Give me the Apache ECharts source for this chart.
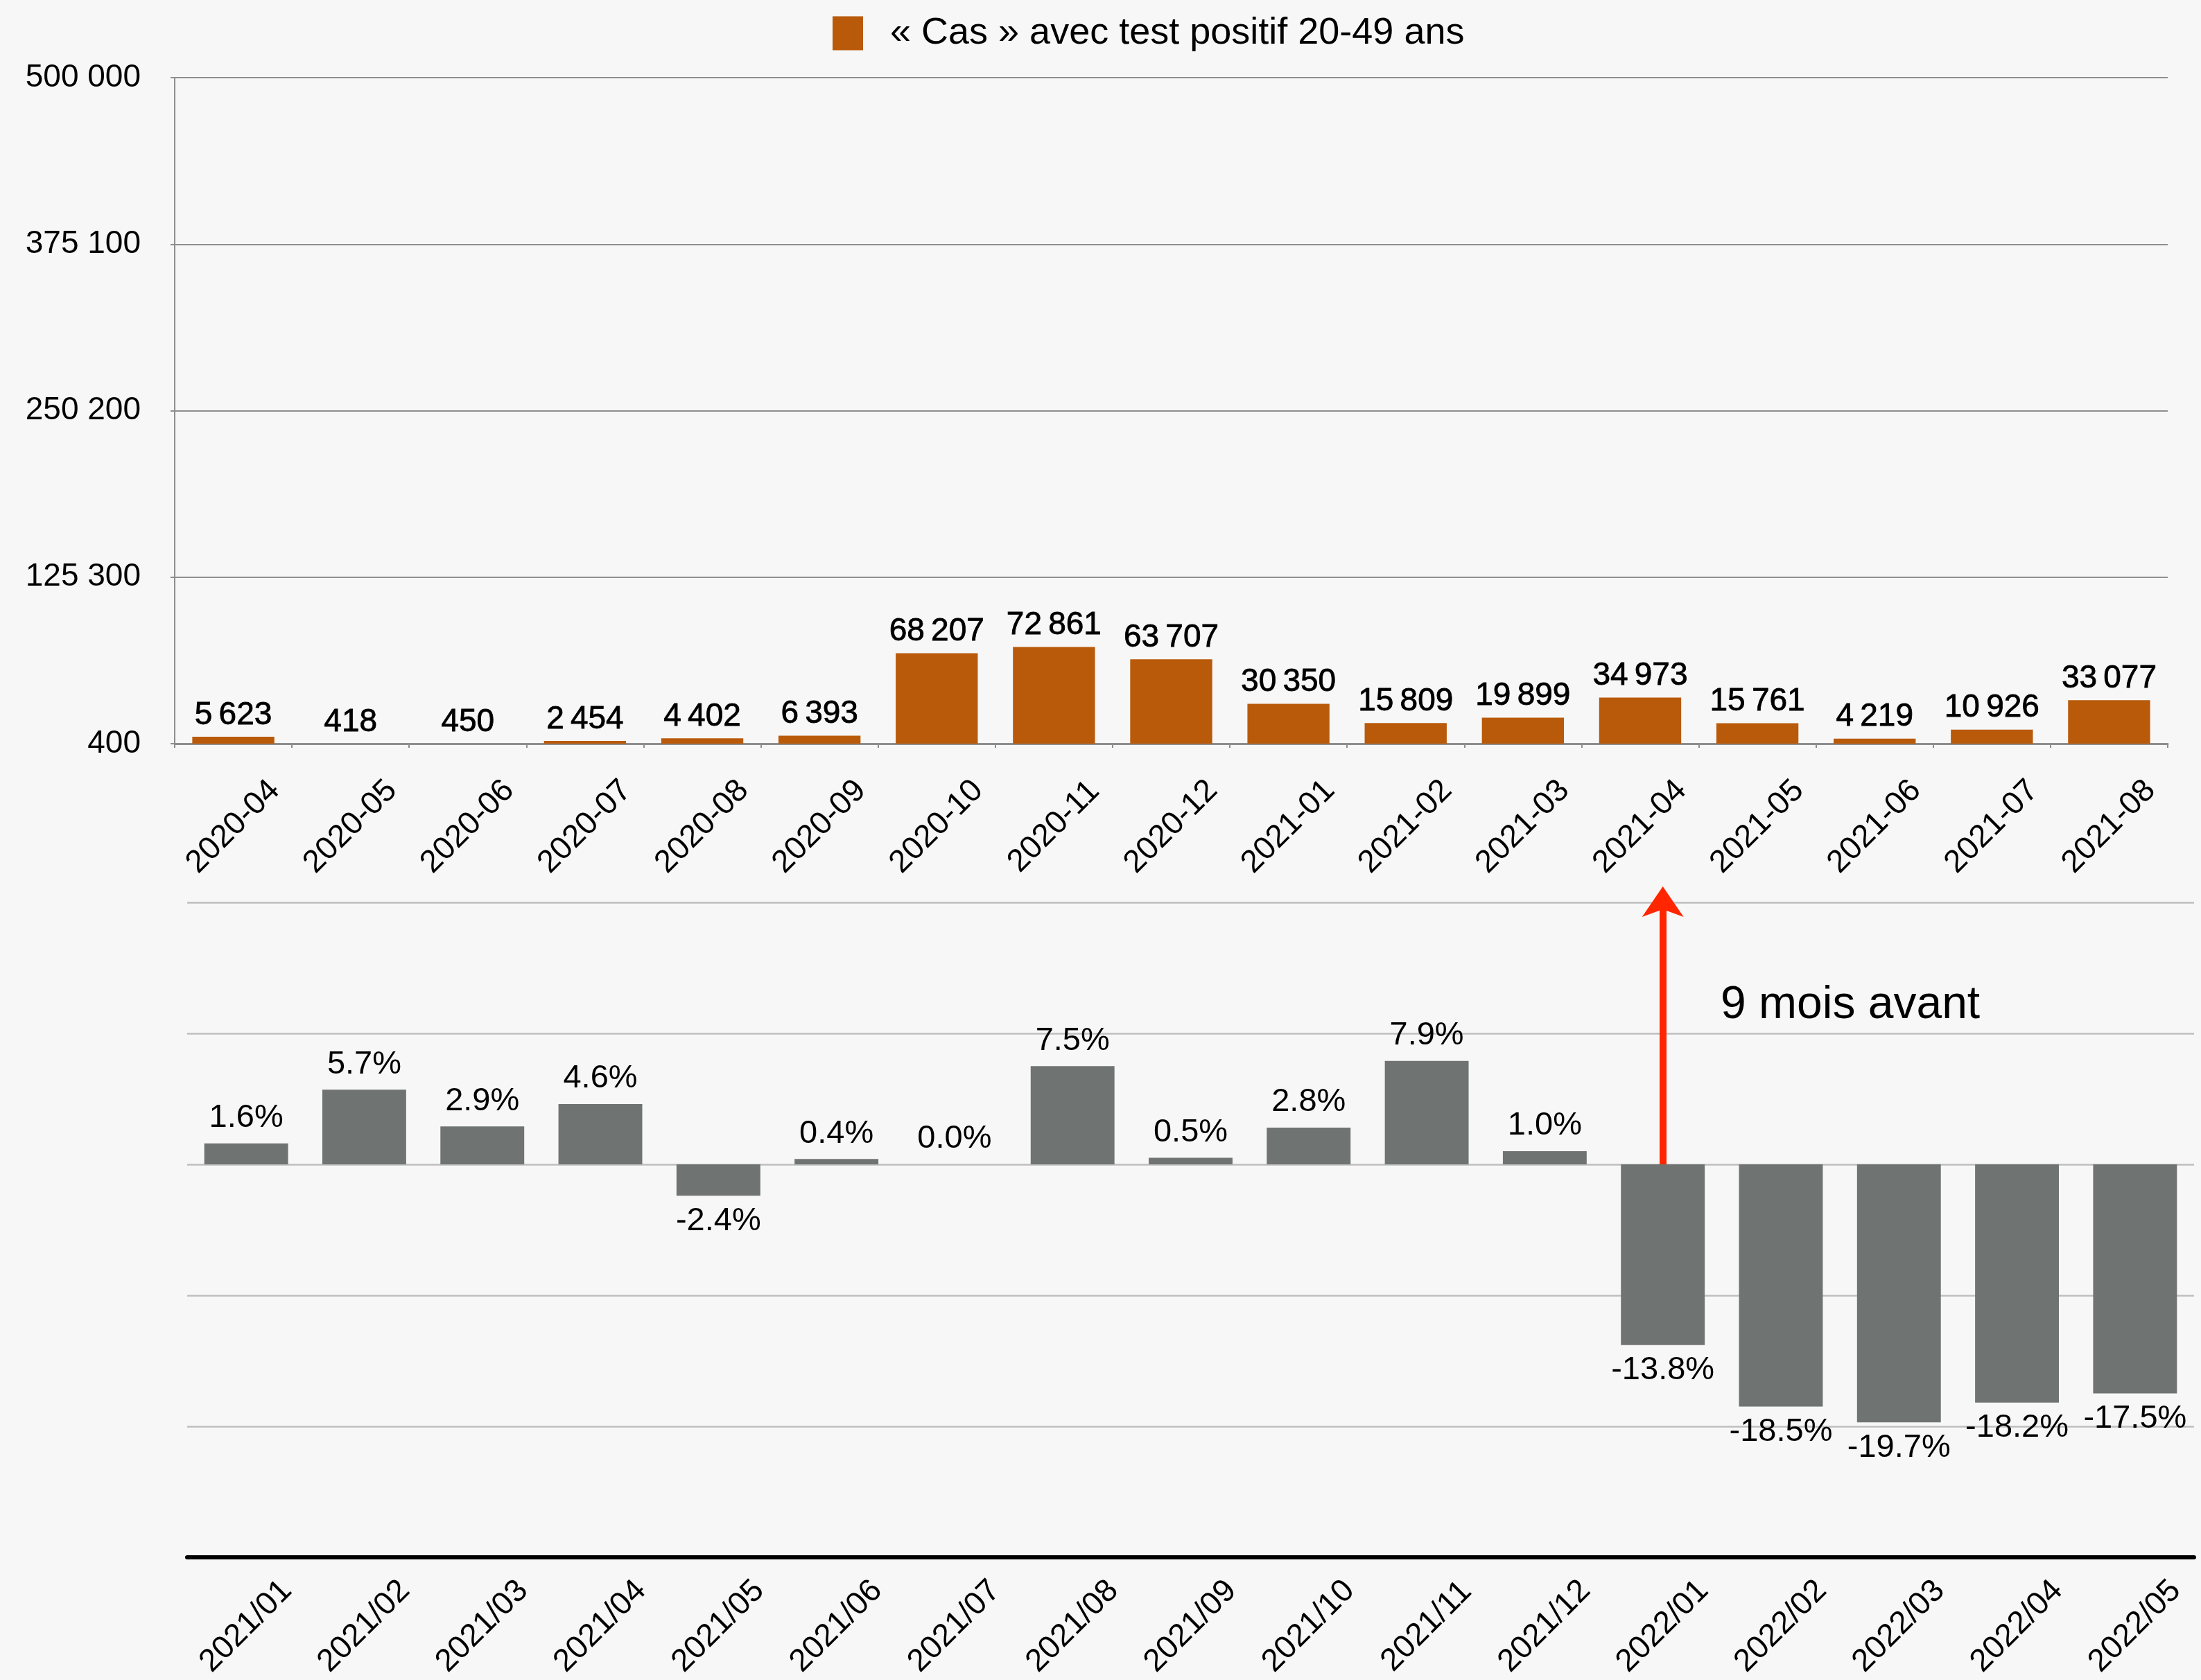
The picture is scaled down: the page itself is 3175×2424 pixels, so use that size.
<!DOCTYPE html>
<html>
<head>
<meta charset="utf-8">
<script src="https://cdn.jsdelivr.net/npm/echarts@6/dist/echarts.min.js"></script>
<style>
  html, body { margin: 0; padding: 0; background: #F7F7F7; }
  #chart { width: 3175px; height: 2424px; }
</style>
</head>
<body>
<div id="chart"></div>
<script>
// Monthly positive-test "cases", 20-49 year olds
const casesName = '« Cas » avec test positif 20-49 ans';
const casesMonths = ['2020-04', '2020-05', '2020-06', '2020-07', '2020-08', '2020-09',
  '2020-10', '2020-11', '2020-12', '2021-01', '2021-02', '2021-03', '2021-04',
  '2021-05', '2021-06', '2021-07', '2021-08'];
const casesValues = [5623, 418, 450, 2454, 4402, 6393, 68207, 72861, 63707,
  30350, 15809, 19899, 34973, 15761, 4219, 10926, 33077];
const casesTicks = [400, 125300, 250200, 375100, 500000];

// Monthly change (%), nine months later
const changeMonths = ['2021/01', '2021/02', '2021/03', '2021/04', '2021/05', '2021/06',
  '2021/07', '2021/08', '2021/09', '2021/10', '2021/11', '2021/12', '2022/01',
  '2022/02', '2022/03', '2022/04', '2022/05'];
const changeValues = [1.6, 5.7, 2.9, 4.6, -2.4, 0.4, 0.0, 7.5, 0.5, 2.8, 7.9, 1.0,
  -13.8, -18.5, -19.7, -18.2, -17.5];
const changeTicks = [-30, -20, -10, 0, 10, 20];

// Annotation: arrow from the zero line of 2022/01 up to the top of the panel
const arrowMonth = '2022/01';
const arrowTop = 20;
const noteText = '9 mois avant';

const FONT = '"Liberation Sans", Arial, Helvetica, sans-serif';

function groupThousands(v, sep) {
  return String(v).replace(/\B(?=(\d{3})+(?!\d))/g, sep);
}

const chart = echarts.init(document.getElementById('chart'));

const changeData = changeValues.map(v => ({
  value: v,
  label: { position: v < 0 ? 'bottom' : 'top' }
}));

chart.setOption({
  backgroundColor: '#F7F7F7',
  textStyle: { fontFamily: FONT, color: '#000' },
  animation: false,
  legend: {
    data: [casesName],
    left: 1196,
    top: 16,
    itemWidth: 44,
    itemHeight: 49,
    icon: 'rect',
    textStyle: { fontSize: 54, color: '#000', fontFamily: FONT, padding: [0, 0, 0, 34] }
  },
  grid: [
    { left: 252, right: 48, top: 112, bottom: 2424 - 1073 },
    { left: 270, right: 10, top: 1302, bottom: 2424 - 2247 }
  ],
  xAxis: [
    {
      type: 'category',
      gridIndex: 0,
      data: casesMonths,
      axisLine: { lineStyle: { color: '#8E8E8E', width: 3 } },
      axisTick: { show: true, length: 6, lineStyle: { color: '#8E8E8E', width: 2 } },
      axisLabel: {
        interval: 0, rotate: 45, align: 'center', verticalAlign: 'middle',
        margin: 120, fontSize: 46, color: '#000', fontFamily: FONT
      }
    },
    {
      type: 'category',
      gridIndex: 1,
      data: changeMonths,
      axisLine: { onZero: false, lineStyle: { color: '#000', width: 6 } },
      axisTick: { show: false },
      axisLabel: {
        interval: 0, rotate: 45, align: 'center', verticalAlign: 'middle',
        margin: 100, fontSize: 46, color: '#000', fontFamily: FONT
      }
    }
  ],
  yAxis: [
    {
      type: 'value',
      gridIndex: 0,
      min: casesTicks[0],
      max: casesTicks[casesTicks.length - 1],
      interval: casesTicks[1] - casesTicks[0],
      axisLine: { show: true, lineStyle: { color: '#8E8E8E', width: 2 } },
      axisTick: { show: true, length: 6, lineStyle: { color: '#8E8E8E', width: 2 } },
      splitLine: { show: true, lineStyle: { color: '#8E8E8E', width: 2 } },
      axisLabel: {
        margin: 49, fontSize: 46, color: '#000', fontFamily: FONT,
        formatter: v => groupThousands(v, ' ')
      }
    },
    {
      type: 'value',
      gridIndex: 1,
      min: changeTicks[0],
      max: changeTicks[changeTicks.length - 1],
      interval: changeTicks[1] - changeTicks[0],
      axisLine: { show: false },
      axisTick: { show: false },
      axisLabel: { show: false },
      splitLine: { show: true, lineStyle: { color: '#BFBFBF', width: 2.5 } }
    }
  ],
  series: [
    {
      name: casesName,
      type: 'bar',
      xAxisIndex: 0,
      yAxisIndex: 0,
      data: casesValues,
      barCategoryGap: '30%',
      itemStyle: { color: '#B95A0A' },
      label: {
        show: true, position: 'top', distance: 8,
        fontSize: 46, color: '#000', fontFamily: FONT,
        textBorderColor: '#000', textBorderWidth: 0.8,
        formatter: p => groupThousands(p.value, '\u2009')
      }
    },
    {
      name: 'variation',
      type: 'bar',
      xAxisIndex: 1,
      yAxisIndex: 1,
      data: changeData,
      barCategoryGap: '29%',
      clip: false,
      itemStyle: { color: '#6F7472' },
      label: {
        show: true, distance: 13,
        fontSize: 47, color: '#000', fontFamily: FONT,
        formatter: p => p.value.toFixed(1) + '%'
      },
      markLine: {
        silent: true,
        symbol: ['none', 'arrow'],
        symbolSize: [45, 44],
        symbolOffset: [[0, 0], [0, -23]],
        label: { show: false },
        lineStyle: { color: '#FF2600', width: 10, type: 'solid' },
        emphasis: { disabled: true },
        data: [[{ coord: [arrowMonth, 0] }, { coord: [arrowMonth, arrowTop] }]]
      }
    }
  ],
  graphic: [
    {
      type: 'text',
      left: 2482,
      top: 1418,
      style: { text: noteText, font: '66px ' + FONT, fill: '#000' }
    }
  ]
});
</script>
</body>
</html>
